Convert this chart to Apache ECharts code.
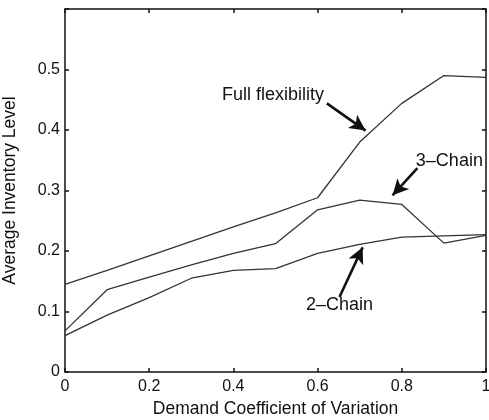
<!DOCTYPE html>
<html>
<head>
<meta charset="utf-8">
<script src="https://cdn.jsdelivr.net/npm/echarts@6/dist/echarts.min.js"></script>
<style>
  html, body { margin: 0; padding: 0; background: #fff; }
  #main { width: 489px; height: 420px; }
</style>
</head>
<body>
<div id="main"></div>
<script>
var xValues = [0, 0.1, 0.2, 0.3, 0.4, 0.5, 0.6, 0.7, 0.8, 0.9, 1.0];
var fullFlex = [0.145, 0.168, 0.192, 0.216, 0.240, 0.263, 0.288, 0.380, 0.444, 0.490, 0.487];
var chain3 = [0.068, 0.136, 0.157, 0.177, 0.196, 0.212, 0.268, 0.284, 0.277, 0.213, 0.226];
var chain2 = [0.060, 0.094, 0.123, 0.155, 0.168, 0.171, 0.196, 0.211, 0.223, 0.225, 0.227];

// annotation text positions and arrows, in data units
var labelNames = ['Full flexibility', '3\u2013Chain', '2\u2013Chain'];
var labelPos = [[0.494, 0.457], [0.913, 0.348], [0.652, 0.111]];
var arrowFrom = [[0.622, 0.444], [0.837, 0.337], [0.652, 0.124]];
var arrowTo = [[0.714, 0.399], [0.778, 0.292], [0.707, 0.206]];

var font = 'Liberation Sans, Arial, sans-serif';

function pairs(vals) {
  return xValues.map(function (x, i) { return [x, vals[i]]; });
}

var lineStyle = { color: '#333', width: 1.3 };
var frame = { onZero: false, lineStyle: { color: '#111', width: 1.5 } };
var ticks = { show: true, inside: true, length: 4, lineStyle: { color: '#111', width: 1.5 } };

var chart = echarts.init(document.getElementById('main'));

var option = {
  backgroundColor: '#fff',
  animation: false,
  grid: { left: 65, right: 3, top: 9, bottom: 48, outerBoundsMode: 'none', containLabel: false },
  xAxis: [{
    type: 'value', min: 0, max: 1, interval: 0.2,
    name: 'Demand Coefficient of Variation',
    nameLocation: 'middle', nameGap: 27,
    nameTextStyle: { fontFamily: font, fontSize: 17.5, color: '#111' },
    axisLine: frame,
    axisTick: ticks,
    axisLabel: { fontFamily: font, fontSize: 16, color: '#111', margin: 7 },
    splitLine: { show: false }
  }, {
    type: 'value', min: 0, max: 1, interval: 0.2, position: 'top',
    axisLine: frame,
    axisTick: ticks,
    axisLabel: { show: false },
    splitLine: { show: false }
  }],
  yAxis: [{
    type: 'value', min: 0, max: 0.6, interval: 0.1,
    name: 'Average Inventory Level',
    nameLocation: 'middle', nameGap: 46,
    nameTextStyle: { fontFamily: font, fontSize: 17.5, color: '#111' },
    axisLine: { show: true, onZero: false, lineStyle: frame.lineStyle },
    axisTick: ticks,
    axisLabel: {
      fontFamily: font, fontSize: 16, color: '#111', margin: 5,
      formatter: function (v) { return v > 0.55 ? '' : String(Math.round(v * 10) / 10); }
    },
    splitLine: { show: false }
  }, {
    type: 'value', min: 0, max: 0.6, interval: 0.1, position: 'right',
    axisLine: { show: true, onZero: false, lineStyle: frame.lineStyle },
    axisTick: ticks,
    axisLabel: { show: false },
    splitLine: { show: false }
  }],
  series: [{
    name: 'Full flexibility', type: 'line', data: pairs(fullFlex),
    showSymbol: false, lineStyle: lineStyle
  }, {
    name: '3-Chain', type: 'line', data: pairs(chain3),
    showSymbol: false, lineStyle: lineStyle
  }, {
    name: '2-Chain', type: 'line', data: pairs(chain2),
    showSymbol: false, lineStyle: lineStyle,
    markLine: {
      silent: true,
      symbol: ['none', 'arrow'],
      symbolSize: [12, 16],
      lineStyle: { color: '#111', width: 2.6, type: 'solid' },
      label: { show: false },
      data: arrowFrom.map(function (p, i) {
        return [{ coord: p }, { coord: arrowTo[i] }];
      })
    },
    markPoint: {
      silent: true,
      symbol: 'circle', symbolSize: 1,
      itemStyle: { color: 'transparent' },
      label: {
        show: true, position: 'inside',
        fontFamily: font, fontSize: 18, color: '#111',
        formatter: function (p) { return p.name; }
      },
      data: labelPos.map(function (p, i) {
        return { name: labelNames[i], coord: p };
      })
    }
  }]
};

chart.setOption(option);
</script>
</body>
</html>
